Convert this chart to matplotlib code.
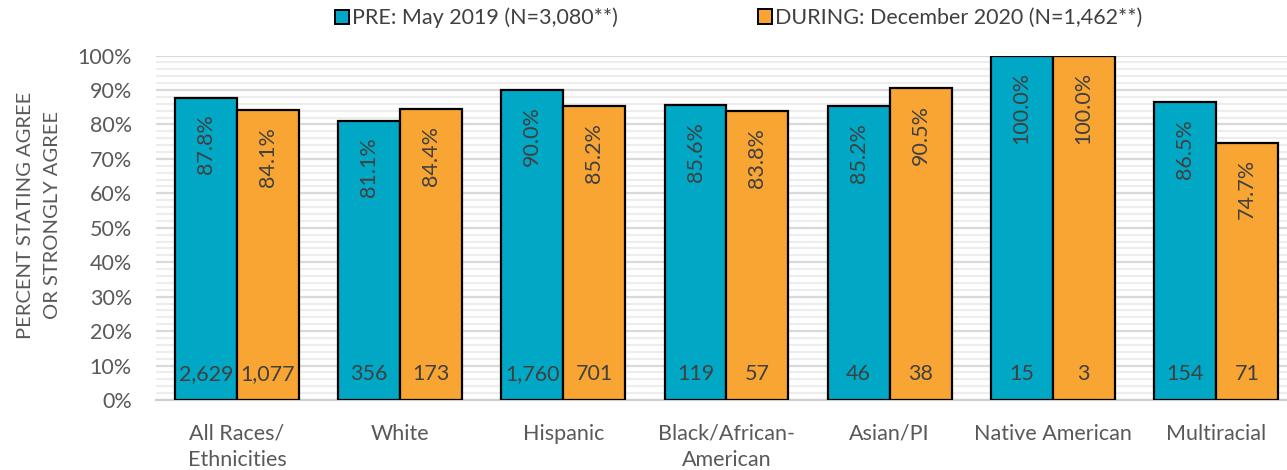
import matplotlib
matplotlib.use("Agg")
import matplotlib.pyplot as plt
from matplotlib.ticker import MultipleLocator, FuncFormatter
from matplotlib.patches import Patch
import numpy as np

categories = ["All Races/\nEthnicities", "White", "Hispanic", "Black/African-\nAmerican",
              "Asian/PI", "Native American", "Multiracial"]
pre_pct = [87.8, 81.1, 90.0, 85.6, 85.2, 100.0, 86.5]
during_pct = [84.1, 84.4, 85.2, 83.8, 90.5, 100.0, 74.7]
pre_n = ["2,629", "356", "1,760", "119", "46", "15", "154"]
during_n = ["1,077", "173", "701", "57", "38", "3", "71"]
legend_labels = ["PRE: May 2019 (N=3,080**)", "DURING: December 2020 (N=1,462**)"]
ylabel = "PERCENT STATING AGREE\nOR STRONGLY AGREE"

teal = "#00A8C6"
orange = "#F9A533"
txt = "#404040"
tick_col = "#595959"

plt.rcParams['font.family'] = ['Lato', 'DejaVu Sans']

fig = plt.figure(figsize=(12.87, 4.70), dpi=100)
W, H = 1287, 470
left_px, right_px = 155.5, 1297.5
top_px, bot_px = 55.5, 400
ax = fig.add_axes([left_px / W, 1 - bot_px / H, (right_px - left_px) / W, (bot_px - top_px) / H])

x = np.arange(len(categories))
bw = 0.38
b1 = ax.bar(x - bw / 2, pre_pct, bw, color=teal, edgecolor="black", linewidth=1.6, zorder=3)
b2 = ax.bar(x + bw / 2, during_pct, bw, color=orange, edgecolor="black", linewidth=1.6, zorder=3)

ax.set_xlim(-0.5, len(categories) - 0.5)
ax.set_ylim(0, 100)
ax.yaxis.set_major_locator(MultipleLocator(10))
ax.yaxis.set_minor_locator(MultipleLocator(2))
ax.yaxis.set_major_formatter(FuncFormatter(lambda v, p: f"{v:.0f}%"))
ax.grid(axis='y', which='major', color="#D9D9D9", linewidth=1.6, zorder=0)
ax.grid(axis='y', which='minor', color="#EDEDED", linewidth=1.6, zorder=0)
for s in ["top", "right", "left"]:
    ax.spines[s].set_visible(False)
ax.spines["bottom"].set_color("#D0D0D0")
ax.spines["bottom"].set_linewidth(1.6)
ax.tick_params(axis='both', which='both', length=0)
ax.tick_params(axis='y', labelsize=15.5, labelcolor=tick_col, pad=17)
ax.set_xticks(x)
ax.set_xticklabels(categories, fontsize=15.5, color=tick_col, linespacing=1.4)
ax.tick_params(axis='x', pad=17)

fig.text(39 / W, 1 - 215 / H, ylabel, rotation=90, ha="center", va="center",
         fontsize=14.5, color=tick_col, linespacing=1.75, multialignment="center")

for bars, pcts, ns in [(b1, pre_pct, pre_n), (b2, during_pct, during_n)]:
    for rect, p, n in zip(bars, pcts, ns):
        cx = rect.get_x() + rect.get_width() / 2
        ax.annotate(f"{p:.1f}%", (cx, p), xytext=(0, -12), textcoords="offset points",
                    rotation=90, ha="center", va="top", fontsize=15.5, color=txt)
        ax.annotate(n, (cx, 0), xytext=(0, 18.5), textcoords="offset points",
                    ha="center", va="center", fontsize=15.5, color=txt)

handles = [Patch(facecolor=teal, edgecolor="black", linewidth=1.4),
           Patch(facecolor=orange, edgecolor="black", linewidth=1.4)]
for h, lab, xpx in zip(handles, legend_labels, [335, 758]):
    fig.legend([h], [lab], loc="center left", bbox_to_anchor=(xpx / W, 1 - 18 / H),
               frameon=False, fontsize=15.5, handlelength=0.65, handleheight=0.65,
               handletextpad=0.15, borderpad=0, borderaxespad=0, labelcolor=txt)

fig.savefig("out.png", dpi=100)
